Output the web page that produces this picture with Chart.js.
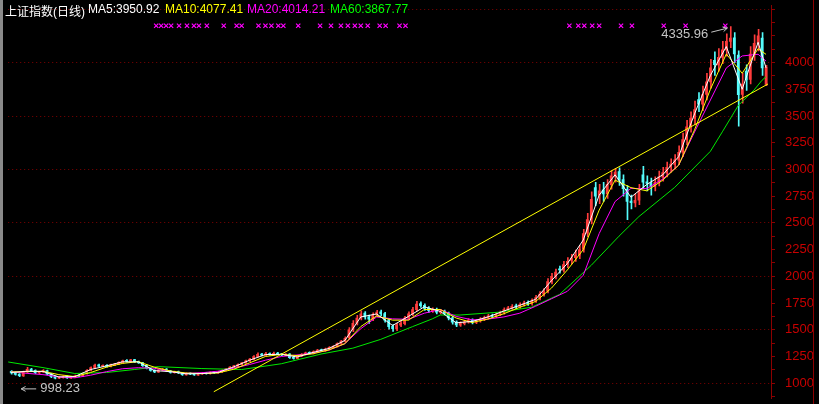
<!DOCTYPE html>
<html lang="zh">
<head>
<meta charset="UTF-8">
<title>上证指数(日线)</title>
<style>
    html, body { margin: 0; padding: 0; background: #000; }
    #wrap { position: relative; width: 819px; height: 404px; overflow: hidden; background: #000; }
    #edge { position: absolute; left: 0; top: 0; width: 3px; height: 404px; background: #8a8a8a; }
    #chart { position: absolute; left: 3px; top: 0; }
    .lbl { position: absolute; top: 2px; font: 12px Arial, "Noto Sans CJK SC", sans-serif; white-space: nowrap; }
</style>
</head>
<body>
<div id="wrap">
    <div id="edge"></div>
    <canvas id="chart" width="816" height="404"></canvas>
    <span class="lbl" style="left:5px;color:#ffffff">上证指数(日线)</span>
    <span class="lbl" style="left:88px;color:#ffffff">MA5:3950.92</span>
    <span class="lbl" style="left:165px;color:#ffff00">MA10:4077.41</span>
    <span class="lbl" style="left:247px;color:#ff00ff">MA20:4014.21</span>
    <span class="lbl" style="left:330px;color:#00ff00">MA60:3867.77</span>
</div>

<script src="https://cdn.jsdelivr.net/npm/chart.js@4.4.1/dist/chart.umd.min.js"></script>
<script>
    // daily candles, compressed (one bar ~ 2-3 sessions)
    const opens = [
        1110,1098,1085,1068,1105,1132,1120,1095,1104,1118,
        1088,1062,1046,1052,1064,1048,1056,1072,1066,1088,
        1118,1142,1172,1158,1168,1156,1170,1178,1193,1214,
        1203,1220,1202,1192,1168,1138,1122,1103,1122,1132,
        1116,1098,1110,1096,1078,1092,1087,1076,1086,1097,
        1088,1102,1096,1104,1118,1133,1152,1158,1173,1188,
        1208,1223,1248,1272,1260,1278,1266,1282,1274,1263,
        1272,1242,1230,1253,1268,1288,1278,1293,1313,1303,
        1318,1333,1343,1368,1392,1425,1498,1562,1608,1655,
        1622,1598,1638,1668,1652,1592,1532,1508,1542,1558,
        1608,1648,1688,1745,1728,1702,1678,1692,1662,1672,
        1657,1612,1572,1543,1558,1573,1592,1568,1583,1598,
        1613,1633,1623,1643,1658,1688,1703,1724,1713,1733,
        1755,1743,1768,1798,1833,1862,1948,1998,2070,2058,
        2108,2150,2175,2198,2252,2405,2535,2830,2760,2810,
        2772,2858,2935,2980,2905,2815,2705,2688,2712,2950,
        2885,2872,2838,2882,2928,2968,3022,3048,3088,3162,
        3282,3402,3478,3655,3612,3702,3818,4020,3978,4048,
        4118,4198,4232,4070,3702,3920,3842,4082,4178,4230,
        3795
    ];
    const highs = [
        1118,1104,1090,1114,1148,1138,1124,1112,1128,1122,
        1092,1068,1062,1068,1068,1064,1076,1078,1096,1128,
        1152,1178,1180,1172,1174,1178,1186,1200,1216,1220,
        1224,1224,1208,1196,1172,1142,1126,1130,1138,1136,
        1120,1114,1114,1100,1096,1098,1092,1094,1100,1102,
        1106,1108,1112,1126,1140,1156,1168,1182,1196,1216,
        1232,1258,1285,1280,1288,1284,1290,1288,1280,1276,
        1276,1248,1262,1276,1292,1294,1302,1318,1320,1328,
        1342,1352,1378,1402,1435,1520,1585,1635,1678,1670,
        1638,1658,1682,1685,1662,1605,1548,1560,1578,1625,
        1668,1710,1765,1762,1742,1716,1706,1704,1688,1684,
        1666,1625,1584,1574,1588,1604,1602,1598,1614,1628,
        1645,1646,1658,1675,1705,1720,1735,1740,1752,1768,
        1770,1790,1822,1858,1885,1980,2028,2068,2095,2140,
        2175,2205,2245,2290,2440,2590,2790,2880,2860,2880,
        2905,2990,3010,3015,2950,2850,2760,2770,2860,3030,
        2940,2920,2930,2985,3020,3070,3100,3140,3220,3340,
        3460,3540,3640,3720,3780,3900,4030,4100,4130,4200,
        4270,4336,4280,4110,3900,3980,4150,4260,4311,4280,
        3975
    ];
    const lows = [
        1085,1074,1062,1064,1100,1110,1090,1090,1100,1078,
        1052,1040,1042,1048,1044,1044,1052,1060,1062,1084,
        1114,1138,1154,1152,1150,1152,1165,1174,1188,1198,
        1198,1194,1184,1158,1134,1112,1098,1100,1118,1110,
        1094,1094,1088,1072,1074,1080,1072,1072,1082,1084,
        1084,1092,1092,1100,1114,1128,1146,1154,1168,1184,
        1202,1218,1244,1255,1256,1262,1262,1266,1258,1258,
        1232,1224,1226,1248,1264,1274,1274,1288,1298,1298,
        1312,1328,1338,1362,1385,1415,1482,1545,1592,1598,
        1560,1585,1622,1632,1572,1505,1485,1492,1528,1545,
        1592,1632,1675,1708,1682,1662,1662,1648,1648,1638,
        1592,1552,1528,1532,1546,1562,1555,1556,1572,1586,
        1602,1610,1612,1632,1645,1675,1690,1698,1700,1720,
        1728,1730,1755,1780,1815,1845,1930,1975,2030,2040,
        2080,2115,2140,2165,2225,2370,2490,2660,2680,2700,
        2730,2815,2880,2850,2750,2530,2630,2650,2670,2820,
        2800,2760,2800,2845,2890,2930,2975,3005,3045,3120,
        3230,3350,3420,3540,3550,3650,3760,3880,3920,3990,
        4060,4140,4000,3404,3620,3740,3800,4020,4110,3880,
        3785
    ];
    const closes = [
        1095,1082,1070,1108,1130,1118,1098,1105,1120,1085,
        1060,1048,1055,1062,1050,1058,1070,1065,1090,1120,
        1145,1170,1160,1165,1158,1172,1180,1195,1210,1205,
        1218,1200,1190,1165,1140,1120,1105,1125,1130,1115,
        1100,1108,1095,1080,1090,1085,1078,1088,1095,1090,
        1100,1098,1105,1120,1135,1150,1160,1175,1190,1210,
        1225,1250,1270,1262,1275,1268,1280,1272,1265,1270,
        1240,1232,1255,1270,1285,1280,1295,1310,1305,1320,
        1335,1345,1370,1395,1420,1500,1560,1610,1650,1620,
        1600,1640,1665,1650,1590,1530,1510,1545,1560,1610,
        1650,1690,1740,1725,1700,1680,1690,1665,1670,1655,
        1610,1570,1545,1560,1575,1590,1570,1585,1600,1615,
        1630,1625,1645,1660,1690,1705,1720,1715,1735,1750,
        1745,1770,1800,1835,1860,1950,2000,2040,2060,2110,
        2140,2170,2200,2250,2400,2530,2720,2750,2800,2770,
        2860,2940,2975,2900,2820,2700,2690,2710,2800,2880,
        2870,2840,2880,2930,2970,3020,3050,3090,3160,3280,
        3400,3480,3560,3610,3700,3820,3950,3980,4050,4120,
        4200,4230,4080,3700,3800,3840,4080,4180,4250,3950,
        3955
    ];

    // moving averages at every 4th bar
    const maIdx = [0,4,8,12,16,20,24,28,32,36,40,44,48,52,56,60,64,68,72,76,80,84,88,92,96,
        100,104,108,112,116,120,124,128,132,136,140,144,148,152,156,160,164,168,172,176,180,184,188,190];
    const ma5 = [1100,1112,1110,1058,1062,1128,1162,1200,1200,1118,1108,1088,1090,1100,1152,1215,1268,1270,1245,1288,
        1325,1400,1620,1648,1540,1625,1715,1672,1565,1578,1620,1675,1728,1785,1960,2120,2340,2760,2950,2740,
        2860,2950,3120,3520,3880,4150,3750,4190,3951];
    const ma10 = [1105,1108,1112,1080,1062,1100,1150,1185,1202,1150,1115,1095,1090,1096,1130,1190,1250,1270,1258,1275,
        1312,1370,1530,1630,1590,1590,1690,1690,1610,1568,1600,1650,1710,1765,1890,2060,2250,2620,2900,2830,
        2800,2900,3040,3370,3750,4080,3900,4130,4077];
    const ma20 = [1108,1092,1080,1060,1050,1075,1108,1135,1145,1140,1110,1092,1098,1112,1140,1175,1215,1250,1264,1282,
        1310,1370,1510,1620,1602,1598,1655,1690,1625,1593,1600,1620,1655,1720,1790,1860,2010,2400,2700,2823,
        2820,2910,3040,3350,3650,3950,4062,4078,4014];
    const ma60Idx = [-1,8,16,24,31,37,48,58,68,78,86,93,101,106,108,113,123,131,138,146,153,158,167,176,179,183,187,189,190];
    const ma60 = [1200,1146,1091,1100,1128,1155,1137,1128,1182,1273,1328,1410,1529,1602,1638,1638,1665,1711,1830,2103,
        2376,2559,2832,3170,3352,3598,3744,3835,3868];

    // hand drawn trend line
    const trendIdx = [51, 190.5];
    const trendVal = [920, 3800];

    // info-mine markers on the top row
    const markIdx = [36.5,37.75,39,40.25,42.25,44.25,46,47.25,49.25,53.5,56.75,58,62.25,64,65.5,67.25,68.5,72.25,
        77.75,80.5,83,84.75,86.5,88,89.75,92.75,94.25,97.75,99.25,140.5,142.75,144.25,146.25,148,153.5,156.25,
        164.25,169.75,179.75];
    const markLevel = 4345;

    const highMark = {idx: 181, value: 4335.96};
    const lowMark = 998.23;

    const UP = '#ff3c3c';
    const DOWN = '#54fcfc';

    function pts(xs, ys) {
        return xs.map((x, k) => ({x: x, y: ys[k]}));
    }

    const bodies = closes.map((c, i) => ({x: i, y: [opens[i], c]}));
    const wicks = closes.map((c, i) => ({x: i, y: [lows[i], highs[i]]}));
    const marks = markIdx.map(x => ({x: x, y: markLevel}));
    const candleColor = ctx => closes[ctx.dataIndex] >= opens[ctx.dataIndex] ? UP : DOWN;

    function arrow(ctx, x1, y1, x2, y2) {
        const a = Math.atan2(y2 - y1, x2 - x1);
        ctx.beginPath();
        ctx.moveTo(x1, y1);
        ctx.lineTo(x2, y2);
        ctx.moveTo(x2 - 5 * Math.cos(a - 0.5), y2 - 5 * Math.sin(a - 0.5));
        ctx.lineTo(x2, y2);
        ctx.lineTo(x2 - 5 * Math.cos(a + 0.5), y2 - 5 * Math.sin(a + 0.5));
        ctx.stroke();
    }

    const extras = {
        id: 'extras',
        afterDatasetsDraw(chart) {
            const {ctx, chartArea, scales: {x, y}} = chart;
            ctx.save();
            ctx.fillStyle = '#c4c4c4';
            ctx.strokeStyle = '#c4c4c4';
            ctx.lineWidth = 1;
            ctx.font = '13px Arial';
            ctx.textBaseline = 'top';

            const hx = x.getPixelForValue(highMark.idx);
            const hy = y.getPixelForValue(highMark.value);
            ctx.textAlign = 'right';
            ctx.fillText(highMark.value.toFixed(2), hx - 22, hy + 1);
            arrow(ctx, hx - 19, hy + 5.5, hx - 3, hy + 1.5);

            const ly = y.getPixelForValue(lowMark);
            ctx.textAlign = 'left';
            ctx.fillText(lowMark.toFixed(2), chartArea.left + 32, ly - 1);
            arrow(ctx, chartArea.left + 28, ly + 5.5, chartArea.left + 13, ly + 5.5);
            ctx.restore();
        },
        afterDraw(chart) {
            const {ctx, chartArea} = chart;
            ctx.save();
            ctx.strokeStyle = '#8b0000';
            ctx.beginPath();
            ctx.moveTo(chartArea.right + 42.5, 0);
            ctx.lineTo(chartArea.right + 42.5, chart.height);
            ctx.stroke();
            ctx.restore();
        }
    };

    new Chart(document.getElementById('chart'), {
        type: 'bar',
        data: {
            datasets: [
                {type: 'line', data: pts(trendIdx, trendVal), borderColor: '#ffff00', borderWidth: 1, pointRadius: 0, order: 0},
                {type: 'scatter', data: marks, pointStyle: 'crossRot', pointRadius: 3, borderColor: '#ff00ff', borderWidth: 1.2, order: 0},
                {type: 'line', label: 'MA5', data: pts(maIdx, ma5), borderColor: '#ffffff', borderWidth: 1, pointRadius: 0, order: 1},
                {type: 'line', label: 'MA10', data: pts(maIdx, ma10), borderColor: '#ffff00', borderWidth: 1, pointRadius: 0, order: 2},
                {type: 'line', label: 'MA20', data: pts(maIdx, ma20), borderColor: '#ff00ff', borderWidth: 1, pointRadius: 0, order: 3},
                {type: 'line', label: 'MA60', data: pts(ma60Idx, ma60), borderColor: '#00e800', borderWidth: 1, pointRadius: 0, order: 4},
                {label: 'body', data: bodies, backgroundColor: candleColor, barThickness: 2, grouped: false, minBarLength: 1, order: 5},
                {label: 'wick', data: wicks, xAxisID: 'xw', backgroundColor: candleColor, barThickness: 1, grouped: false, order: 6}
            ]
        },
        options: {
            responsive: false,
            animation: false,
            devicePixelRatio: 1,
            layout: {padding: 0},
            plugins: {legend: {display: false}, tooltip: {enabled: false}},
            scales: {
                x: {type: 'linear', min: -0.75, max: 191.25, display: false, offset: false},
                // same axis, half a pixel over, so 1px wicks sit on whole pixels
                xw: {type: 'linear', axis: 'x', min: -0.875, max: 191.125, display: false, offset: false},
                y: {
                    position: 'right',
                    min: 854,
                    max: 4537,
                    afterFit(s) {
                        s.width = 48;
                        s.paddingTop = 0;
                        s.paddingBottom = 0;
                    },
                    border: {color: '#8b0000', dash: [1, 3]},
                    grid: {
                        color: c => (c.tick && c.tick.value % 500 === 0) ? '#800000' : 'rgba(0,0,0,0)',
                        tickColor: '#8b0000',
                        tickLength: 4,
                        lineWidth: 1
                    },
                    ticks: {
                        stepSize: 125,
                        includeBounds: false,
                        autoSkip: false,
                        maxTicksLimit: 100,
                        padding: 10,
                        color: '#c80000',
                        font: {family: 'Arial', size: 13},
                        callback: v => (v % 250 === 0 && v >= 1000 && v <= 4000) ? String(v) : ''
                    }
                }
            }
        },
        plugins: [extras]
    });
</script>
</body>
</html>
